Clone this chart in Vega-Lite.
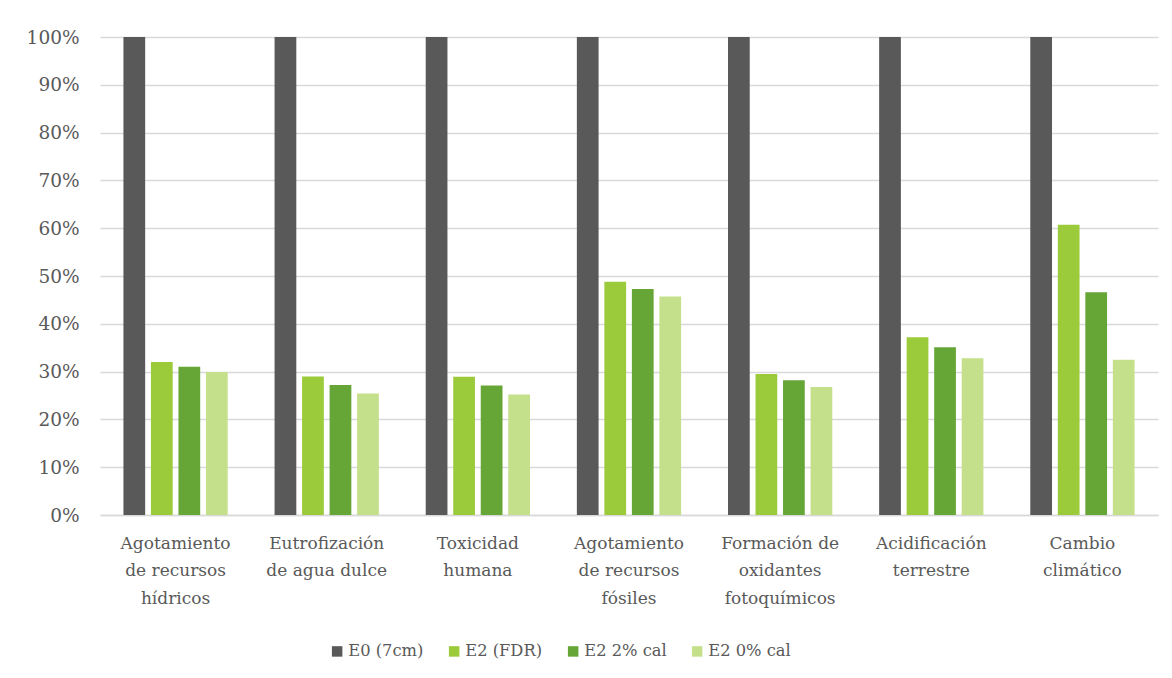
{
  "$schema": "https://vega.github.io/schema/vega-lite/v6.json",
  "width": 1058,
  "height": 478,
  "autosize": "none",
  "padding": {"left": 100, "top": 37, "right": 14, "bottom": 163},
  "background": "white",
  "config": {
    "font": "DejaVu Serif",
    "view": {"stroke": null},
    "axisY": {"labelFont": "DejaVu Serif", "labelColor": "#595959", "labelFontSize": 18.5},
    "axisX": {"labelFont": "DejaVu Serif", "labelColor": "#595959", "labelFontSize": 17},
    "legend": {"labelFont": "DejaVu Serif", "labelColor": "#595959", "labelFontSize": 16.3}
  },
  "data": {
    "values": [
      {"cat": "Agotamiento|de recursos|hídricos", "serie": "E0 (7cm)", "v": 1.0},
      {"cat": "Agotamiento|de recursos|hídricos", "serie": "E2 (FDR)", "v": 0.320},
      {"cat": "Agotamiento|de recursos|hídricos", "serie": "E2 2% cal", "v": 0.310},
      {"cat": "Agotamiento|de recursos|hídricos", "serie": "E2 0% cal", "v": 0.299},
      {"cat": "Eutrofización|de agua dulce", "serie": "E0 (7cm)", "v": 1.0},
      {"cat": "Eutrofización|de agua dulce", "serie": "E2 (FDR)", "v": 0.290},
      {"cat": "Eutrofización|de agua dulce", "serie": "E2 2% cal", "v": 0.272},
      {"cat": "Eutrofización|de agua dulce", "serie": "E2 0% cal", "v": 0.254},
      {"cat": "Toxicidad|humana", "serie": "E0 (7cm)", "v": 1.0},
      {"cat": "Toxicidad|humana", "serie": "E2 (FDR)", "v": 0.289},
      {"cat": "Toxicidad|humana", "serie": "E2 2% cal", "v": 0.271},
      {"cat": "Toxicidad|humana", "serie": "E2 0% cal", "v": 0.252},
      {"cat": "Agotamiento|de recursos|fósiles", "serie": "E0 (7cm)", "v": 1.0},
      {"cat": "Agotamiento|de recursos|fósiles", "serie": "E2 (FDR)", "v": 0.488},
      {"cat": "Agotamiento|de recursos|fósiles", "serie": "E2 2% cal", "v": 0.473},
      {"cat": "Agotamiento|de recursos|fósiles", "serie": "E2 0% cal", "v": 0.457},
      {"cat": "Formación de|oxidantes|fotoquímicos", "serie": "E0 (7cm)", "v": 1.0},
      {"cat": "Formación de|oxidantes|fotoquímicos", "serie": "E2 (FDR)", "v": 0.295},
      {"cat": "Formación de|oxidantes|fotoquímicos", "serie": "E2 2% cal", "v": 0.282},
      {"cat": "Formación de|oxidantes|fotoquímicos", "serie": "E2 0% cal", "v": 0.268},
      {"cat": "Acidificación|terrestre", "serie": "E0 (7cm)", "v": 1.0},
      {"cat": "Acidificación|terrestre", "serie": "E2 (FDR)", "v": 0.372},
      {"cat": "Acidificación|terrestre", "serie": "E2 2% cal", "v": 0.351},
      {"cat": "Acidificación|terrestre", "serie": "E2 0% cal", "v": 0.328},
      {"cat": "Cambio|climático", "serie": "E0 (7cm)", "v": 1.0},
      {"cat": "Cambio|climático", "serie": "E2 (FDR)", "v": 0.607},
      {"cat": "Cambio|climático", "serie": "E2 2% cal", "v": 0.466},
      {"cat": "Cambio|climático", "serie": "E2 0% cal", "v": 0.325}
    ]
  },
  "mark": {"type": "bar"},
  "encoding": {
    "x": {
      "field": "cat", "type": "nominal", "sort": null,
      "scale": {"paddingInner": 0.31, "paddingOuter": 0.155},
      "axis": {
        "title": null, "labelAngle": 0, "ticks": false,
        "domainColor": "#d9d9d9", "domainWidth": 1.5,
        "labelExpr": "split(datum.label, '|')",
        "labelLineHeight": 27.5, "labelBaseline": "top", "labelPadding": 20,
        "labelAlign": "center"
      }
    },
    "xOffset": {
      "field": "serie", "type": "nominal", "sort": ["E0 (7cm)", "E2 (FDR)", "E2 2% cal", "E2 0% cal"],
      "scale": {"paddingInner": 0.21, "paddingOuter": 0}
    },
    "y": {
      "field": "v", "type": "quantitative",
      "scale": {"domain": [0, 1], "nice": false},
      "axis": {
        "title": null, "format": ".0%", "values": [0, 0.1, 0.2, 0.3, 0.4, 0.5, 0.6, 0.7, 0.8, 0.9, 1.0],
        "domain": false, "ticks": false, "labelPadding": 21,
        "gridColor": "#d9d9d9", "gridWidth": 1.5
      }
    },
    "color": {
      "field": "serie", "type": "nominal",
      "sort": ["E0 (7cm)", "E2 (FDR)", "E2 2% cal", "E2 0% cal"],
      "scale": {"domain": ["E0 (7cm)", "E2 (FDR)", "E2 2% cal", "E2 0% cal"], "range": ["#595959", "#9BCA3B", "#65A637", "#C4E08A"]},
      "legend": {
        "title": null, "orient": "none", "direction": "horizontal",
        "legendX": 229, "legendY": 606,
        "symbolType": "square", "symbolSize": 110, "symbolStrokeWidth": 0,
        "labelOffset": 3, "columnPadding": 22, "padding": 0
      }
    }
  }
}
